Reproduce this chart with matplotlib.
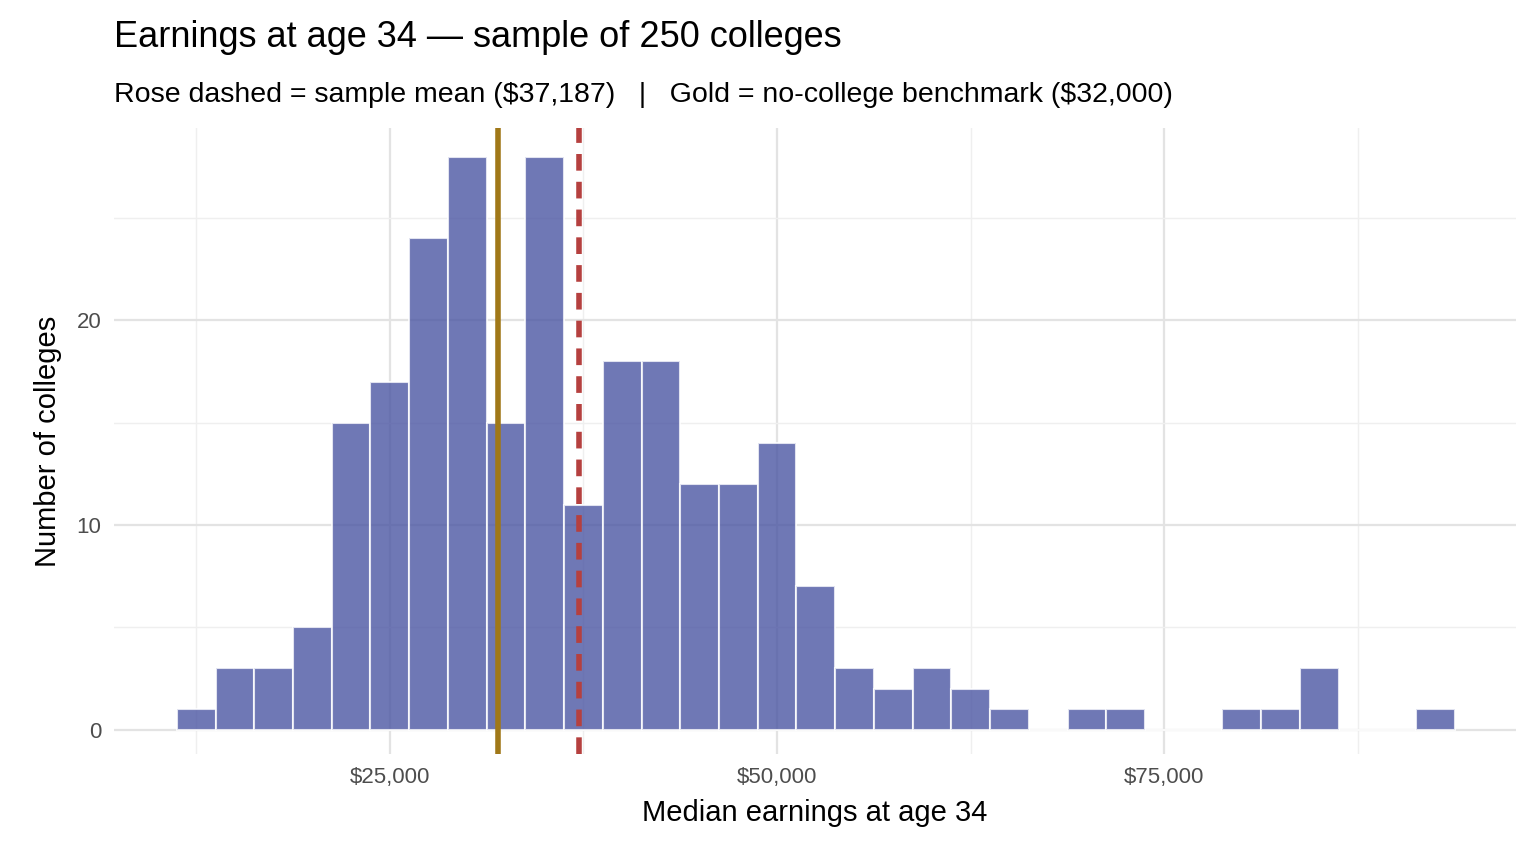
import matplotlib
matplotlib.use("Agg")
import matplotlib.pyplot as plt
from matplotlib.ticker import FuncFormatter

bin_centers = [12500 + 2500 * i for i in range(33)]
counts = [1, 3, 3, 5, 15, 17, 24, 28, 15, 28, 11, 18, 18, 12, 12, 14, 7,
          3, 2, 3, 2, 1, 0, 1, 1, 0, 0, 1, 1, 3, 0, 0, 1]
sample_mean = 37187
benchmark = 32000

plt.rcParams["font.family"] = ["Liberation Sans", "DejaVu Sans"]
fig = plt.figure(figsize=(15.36, 8.64), dpi=100)
ax = fig.add_axes([0.074, 0.127, 0.913, 0.725])

ax.bar(bin_centers, counts, width=2500, color="#4B56A3", alpha=0.8,
       edgecolor="white", linewidth=1.5, zorder=2)
ax.axvline(benchmark, color="#A07818", linewidth=4, zorder=3)
ax.axvline(sample_mean, color="#B5403F", linewidth=4, linestyle=(0, (3, 2)), zorder=3)

ax.set_xlim(7170, 97700)
ax.set_ylim(-1.2, 29.4)
ax.set_xticks([25000, 50000, 75000])
ax.set_xticks([12500, 37500, 62500, 87500], minor=True)
ax.set_yticks([0, 10, 20])
ax.set_yticks([5, 15, 25], minor=True)
ax.xaxis.set_major_formatter(FuncFormatter(lambda v, p: f"\\${v:,.0f}"))
ax.grid(which="major", color="#E3E3E3", linewidth=1.6, zorder=0)
ax.grid(which="minor", color="#EFEFEF", linewidth=1.0, zorder=0)
ax.set_axisbelow(True)
for s in ax.spines.values():
    s.set_visible(False)
ax.tick_params(which="both", length=0, labelsize=16, colors="#4D4D4D", pad=9)

ax.set_xlabel("Median earnings at age 34", fontsize=21, labelpad=8)
ax.set_ylabel("Number of colleges", fontsize=21, labelpad=10)
fig.text(0.074, 0.957, "Earnings at age 34 \u2014 sample of 250 colleges", fontsize=26, va="center")
fig.text(0.074, 0.89,
         "Rose dashed = sample mean (\\$37,187)   |   Gold = no-college benchmark (\\$32,000)",
         fontsize=20.5, va="center")

fig.savefig("out.png", dpi=100)
